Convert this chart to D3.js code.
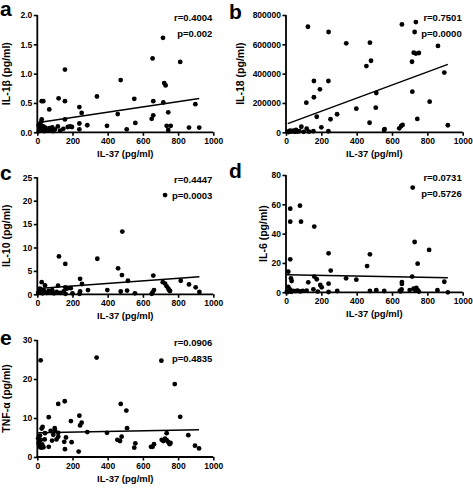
<!DOCTYPE html>
<html>
<head>
<meta charset="utf-8">
<script src="https://cdn.jsdelivr.net/npm/d3@7"></script>
<style>
  html, body { margin: 0; padding: 0; background: #fff; }
  svg { display: block; font-family: "Liberation Sans", Arial, Helvetica, sans-serif; font-weight: bold; }
</style>
</head>
<body>
<svg id="chart" width="473" height="488"></svg>
<script>
// ---------- DATA ----------
const xTicks = [0, 200, 400, 600, 800, 1000];
const xTitle = "IL-37 (pg/ml)";

// panel a: IL-1β
const il1bPoints = [[25,0.53],[34,0.53],[68,0.39],[121,0.58],[157,1.07],[157,0.53],[157,0.22],[239,0.43],[252,0.33],[239,0.15],[339,0.61],[457,0.31],[474,0.89],[551,0.57],[557,0.16],[396,0.11],[284,0.12],[508,0.05],[239,0.05],[173,0.09],[186,0.1],[197,0.09],[148,0.06],[25,0.22],[20,0.17],[21,0.11],[34,0.10],[15,0.04],[50,0.05],[68,0.07],[85,0.085],[100,0.05],[117,0.1],[30,0.07],[13,0.085],[655,1.26],[714,1.61],[812,1.20],[721,0.84],[729,0.80],[659,0.53],[716,0.51],[898,0.48],[744,0.34],[659,0.29],[650,0.23],[735,0.11],[758,0.11],[744,0.04],[862,0.08],[920,0.08],[10,0.02],[40,0.02],[60,0.03],[90,0.02],[130,0.03],[8,0.12],[45,0.08],[75,0.04]];
const il1bTicks = [0, 0.5, 1.0, 1.5, 2.0];
const il1bFit = [0.165, 0.000447];
const il1bStats = ["r=0.4004", "p=0.002"];

// panel b: IL-18
const il18Points = [[124,720000],[241,684000],[341,607000],[475,611000],[481,488000],[455,452000],[158,350000],[240,350000],[192,293000],[158,239000],[115,202000],[511,268000],[398,161000],[508,168000],[174,106000],[289,123000],[252,89000],[473,65000],[200,34000],[240,7000],[87,38000],[117,25000],[75,7000],[23,11000],[41,11000],[57,16000],[155,7000],[558,22000],[641,27000],[656,736000],[735,752000],[728,684000],[860,589000],[723,543000],[735,537000],[752,541000],[713,481000],[896,407000],[715,277000],[813,209000],[743,91000],[916,48000],[652,43000],[660,50000],[10,5000],[15,2000],[30,4000],[50,3000],[65,5000],[100,3000],[130,4000],[555,15000]];
const il18Ticks = [0, 200000, 400000, 600000, 800000];
const il18Fit = [55000, 446];
const il18Stats = ["r=0.7501", "p=0.0000"];

// panel c: IL-10
const il10Points = [[726,21.2],[483,13.4],[123,8.1],[159,6.5],[341,7.6],[459,5.55],[481,4.1],[515,2.9],[659,4.0],[243,3.3],[254,2.2],[25,2.6],[44,1.9],[118,1.85],[159,1.5],[168,1.2],[190,1.3],[288,0.9],[398,0.9],[510,0.8],[555,0.2],[655,0.4],[663,0.9],[713,2.6],[726,2.3],[735,1.7],[745,1.2],[748,0.9],[754,0.7],[815,2.9],[862,2.1],[900,1.5],[921,0.5],[474,0.6],[243,0.6],[5,0.3],[12,0.8],[20,0.5],[30,0.2],[40,0.6],[55,0.3],[65,0.7],[80,0.4],[95,0.2],[110,0.5],[130,0.3],[150,0.6],[160,0.1],[200,0.2],[15,1.2],[35,0.9],[85,0.9],[240,0.1],[650,0.1]];
const il10Ticks = [0, 5, 10, 15, 20, 25];
const il10Fit = [1.25, 0.00272];
const il10Stats = ["r=0.4447", "p=0.0003"];

// panel d: IL-6
const il6Points = [[717,71.4],[24,57.0],[79,59.1],[24,48.2],[85,48.2],[160,44.8],[241,26.6],[475,25.9],[459,17.9],[24,22.5],[253,14.8],[13,14.1],[28,9.5],[32,7.7],[160,10.7],[174,8.9],[340,9.5],[398,8.6],[194,5.0],[202,3.4],[126,6.8],[241,5.9],[13,3.7],[22,1.9],[155,2.0],[117,1.1],[290,0.9],[475,0.9],[511,1.4],[556,0.9],[644,0.9],[728,34.3],[810,28.9],[745,19.5],[714,10.7],[656,7.0],[656,5.7],[654,2.0],[722,2.5],[730,1.8],[738,3.0],[745,1.5],[752,0.5],[857,1.4],[896,7.2],[916,0.0],[650,0.7],[700,1.5],[5,0.5],[10,0.2],[40,1.0],[55,0.8],[65,1.2],[80,0.6],[95,1.0],[241,0.2],[180,0.5],[30,0.3]];
const il6Ticks = [0, 20, 40, 60, 80];
const il6Fit = [12.0, -0.0022];
const il6Stats = ["r=0.0731", "p=0.5726"];

// panel e: TNF-α
const tnfPoints = [[19,24.8],[337,25.5],[705,24.7],[781,18.7],[119,13.6],[156,14.3],[65,10.2],[191,9.2],[239,10.6],[252,8.8],[243,8.1],[284,6.4],[396,6.2],[474,13.6],[506,11.9],[510,7.4],[455,4.4],[470,4.1],[479,5.2],[557,3.5],[551,2.4],[235,1.4],[157,2.0],[195,3.8],[153,3.9],[163,5.0],[119,5.2],[119,6.2],[65,2.6],[44,6.1],[25,7.3],[30,7.7],[99,7.4],[101,6.7],[76,6.7],[91,5.7],[84,4.2],[109,4.5],[42,4.5],[812,10.3],[655,2.6],[663,3.3],[646,2.6],[707,4.4],[716,4.1],[726,4.7],[735,4.3],[735,6.1],[743,3.9],[752,3.3],[757,3.6],[858,5.6],[896,2.9],[919,2.2],[5,4.8],[8,3.5],[12,2.6],[15,5.5],[18,3.0],[22,2.4],[28,3.2],[35,2.5],[10,4.0],[20,4.4]];
const tnfTicks = [0, 10, 20, 30];
const tnfFit = [6.24, 0.00083];
const tnfStats = ["r=0.0906", "p=0.4835"];

// ---------- LAYOUT ----------
const panels = [
  { letter: "a", lx: 0,   ly: 16,  pts: il1bPoints, ticks: il1bTicks, fmt: d3.format(".1f"), yLabel: "IL-1β (pg/ml)", fit: il1bFit, stats: il1bStats, x0: 37.3, x1: 213.3, yTop: 15,    yBot: 132.3, labOff: 31 },
  { letter: "b", lx: 229, ly: 19,  pts: il18Points, ticks: il18Ticks, fmt: d3.format("d"), yLabel: "IL-18 (pg/ml)", fit: il18Fit, stats: il18Stats, x0: 286, x1: 462.7, yTop: 15,    yBot: 132.3, labOff: 46 },
  { letter: "c", lx: 0,   ly: 180, pts: il10Points, ticks: il10Ticks, fmt: d3.format("d"), yLabel: "IL-10 (pg/ml)", fit: il10Fit, stats: il10Stats, x0: 37.3, x1: 213.3, yTop: 177.3, yBot: 294.3, labOff: 31 },
  { letter: "d", lx: 229, ly: 178, pts: il6Points,  ticks: il6Ticks,  fmt: d3.format("d"), yLabel: "IL-6 (pg/ml)",  fit: il6Fit,  stats: il6Stats,  x0: 286, x1: 462.7, yTop: 175,   yBot: 292.3, labOff: 23 },
  { letter: "e", lx: 0,   ly: 345, pts: tnfPoints,  ticks: tnfTicks,  fmt: d3.format("d"), yLabel: "TNF-α (pg/ml)", fit: tnfFit,  stats: tnfStats,  x0: 37.3, x1: 213.3, yTop: 340,   yBot: 457,   labOff: 31 }
];

const svg = d3.select("#chart");

panels.forEach(p => {
  const x = d3.scaleLinear().domain([0, 1000]).range([p.x0, p.x1]);
  const y = d3.scaleLinear().domain([0, d3.max(p.ticks)]).range([p.yBot, p.yTop]);
  const g = svg.append("g");

  // panel letter
  svg.append("text").attr("x", p.lx).attr("y", p.ly)
    .attr("font-size", 21).attr("font-weight", "bold").text(p.letter);

  // axes
  const ax = g.append("g").attr("transform", `translate(0,${p.yBot})`)
    .call(d3.axisBottom(x).tickValues(xTicks).tickFormat(d3.format("d")).tickSize(3.5).tickSizeOuter(0).tickPadding(2));
  const ay = g.append("g").attr("transform", `translate(${p.x0},0)`)
    .call(d3.axisLeft(y).tickValues(p.ticks).tickFormat(p.fmt).tickSize(3.5).tickSizeOuter(0).tickPadding(1.5));
  [ax, ay].forEach(a => {
    a.select(".domain").attr("stroke", "#000").attr("stroke-width", 1.8);
    a.selectAll(".tick line").attr("stroke", "#000").attr("stroke-width", 1.6);
    a.selectAll(".tick text").attr("fill", "#000").attr("font-size", 8.5)
      .attr("font-weight", "bold").attr("font-family", '"Liberation Sans", Arial, sans-serif');
  });
  ax.select(".domain").attr("d", `M${p.x0 - 0.9},0H${p.x1}`);
  ay.select(".domain").attr("d", `M0,${p.yBot + 0.9}V${p.yTop}`);

  // axis titles
  g.append("text").attr("x", (p.x0 + p.x1) / 2).attr("y", p.yBot + 25)
    .attr("text-anchor", "middle").attr("font-size", 9.5).text(xTitle);
  g.append("text")
    .attr("transform", `translate(${p.x0 - p.labOff},${(p.yTop + p.yBot) / 2}) rotate(-90)`)
    .attr("text-anchor", "middle").attr("dominant-baseline", "central")
    .attr("font-size", 10.5).text(p.yLabel);

  // regression line over data extent
  const ext = d3.extent(p.pts, d => d[0]);
  const line = d3.line().x(d => x(d)).y(d => y(p.fit[0] + p.fit[1] * d));
  g.append("path").datum(ext).attr("d", line)
    .attr("fill", "none").attr("stroke", "#000").attr("stroke-width", 1.5);

  // points
  g.append("g").selectAll("circle").data(p.pts).join("circle")
    .attr("cx", d => x(d[0])).attr("cy", d => y(d[1])).attr("r", 2.4).attr("fill", "#000");

  // stats
  g.append("text").attr("x", x(1000) - 1).attr("y", p.yTop + 6)
    .attr("text-anchor", "end").attr("font-size", 9.5).text(p.stats[0]);
  g.append("text").attr("x", x(1000) - 1).attr("y", p.yTop + 22)
    .attr("text-anchor", "end").attr("font-size", 9.5).text(p.stats[1]);
});
</script>
</body>
</html>
